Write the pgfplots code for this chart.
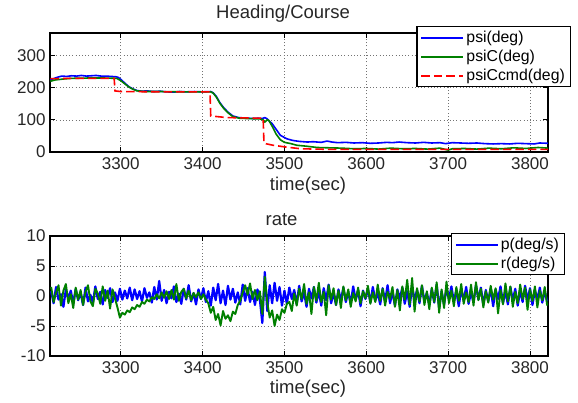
\documentclass[border=0pt]{standalone}
\usepackage{pgfplots}
\pgfplotsset{compat=1.18}
\usepackage{fontspec}
\setmainfont{Liberation Sans}
\definecolor{mblue}{rgb}{0,0,1}
\definecolor{mgreen}{rgb}{0,0.5,0}
\definecolor{mred}{rgb}{1,0,0}
\pgfplotsset{
  mstyle/.style={
    scale only axis, width=498pt,
    xmin=3213.6, xmax=3822,
    xtick={3300,3400,3500,3600,3700,3800},
    enlargelimits=false,
    axis line style={line width=1.1pt, black},
    every tick/.style={black, line width=0.9pt},
    major tick length=5pt,
    tick align=inside,
    grid=major,
    major grid style={black!55, line width=0.6pt, dash pattern=on 1pt off 2.2pt},
    /pgf/number format/assume math mode=true,
    /pgf/number format/1000 sep={},
    ticklabel style={font=\fontsize{17}{17}\selectfont, text=black!85},
    xticklabel style={yshift=-2pt},
    yticklabel style={xshift=-1pt},
    label style={font=\fontsize{18.5}{18.5}\selectfont, text=black!85},
    title style={font=\fontsize{18.5}{18.5}\selectfont, text=black!85},
    legend style={draw=black, line width=1.2pt, fill=white,
      font=\fontsize{15.8}{15.8}\selectfont,
      inner xsep=3.5pt, inner ysep=2.5pt, row sep=2pt},
    legend cell align=left,
    legend image code/.code={\draw[##1, line width=2pt] (0pt,0pt) -- (42pt,0pt);},
  }
}
\begin{document}
\begin{tikzpicture}
\useasboundingbox (0,0) rectangle (578pt,402pt);
% ---------- top axis ----------
\begin{axis}[mstyle, at={(50pt,250pt)}, anchor=south west, height=119pt,
  ymin=0, ymax=370, ytick={0,100,200,300},
  title={Heading/Course},
  title style={at={(axis description cs:0.468,1)}, anchor=base, yshift=9pt},
  xlabel={time(sec)},
  xlabel style={at={(axis description cs:0.518,0)}, anchor=base, yshift=-38pt},
  legend style={at={(1.046,1.058)}, anchor=north east},
]
\addplot[draw=mblue, line width=1.6pt, line join=round] coordinates {
(3214,224)(3218,228)(3222,232)(3228,236)(3234,235)(3240,237)(3246,236)(3252,238)(3258,236)(3264,237)(3270,238)(3276,236)(3282,236)(3288,235)(3294,234)(3297,232)(3301,224)(3305,214)(3310,203)(3315,196)(3320,191)(3326,189)(3332,190)(3340,188)(3348,189)(3356,187)(3364,186)(3372,188)(3380,187)(3390,188)(3400,187)(3410,188)(3413,184)(3417,172)(3421,154)(3426,137)(3431,124)(3437,112)(3444,107)(3450,106)(3456,105)(3462,104)(3468,105)(3473,104)(3476,107)(3479,103)(3482,95)(3485,88)(3490,70)(3495,52)(3500,45)(3503,41)(3510,36)(3518,33)(3528,31)(3535,32)(3545,30)(3552,34)(3558,31)(3565,29)(3575,30)(3585,28)(3595,29)(3605,27)(3615,28)(3625,30)(3632,29)(3640,31)(3650,29)(3660,28)(3670,30)(3680,28)(3690,29)(3697,26)(3705,29)(3715,28)(3725,27)(3735,28)(3745,26)(3755,25)(3765,26)(3775,25)(3785,27)(3795,26)(3805,25)(3812,28)(3822,27)};
\addlegendentry{psi(deg)}
\addplot[draw=mgreen, line width=1.6pt, line join=round] coordinates {
(3214,220)(3220,224)(3230,227)(3240,229)(3260,230)(3280,230)(3295,229)(3300,222)(3305,212)(3310,202)(3315,195)(3320,190)(3330,188)(3350,188)(3380,187)(3410,187)(3413,183)(3417,170)(3421,152)(3426,135)(3431,122)(3437,110)(3445,105)(3455,104)(3470,103)(3474,100)(3476,93)(3479,100)(3481,98)(3485,80)(3490,55)(3495,38)(3500,30)(3508,26)(3515,21)(3527,18)(3540,14)(3555,13)(3570,12)(3585,10)(3600,11)(3615,9)(3630,12)(3645,10)(3660,11)(3675,9)(3690,12)(3700,6)(3705,10)(3720,11)(3735,9)(3750,12)(3765,10)(3780,13)(3795,11)(3810,14)(3822,12)};
\addlegendentry{psiC(deg)}
\addplot[draw=mred, line width=1.6pt, dash pattern=on 8.5pt off 4pt] coordinates {
(3214,228)(3240,229)(3292,229)(3293,190)(3300,188)(3350,187)(3409,187)(3410,112)(3430,107)(3474,105)(3475,27)(3486,21)(3500,16)(3520,10)(3560,8)(3600,8)(3700,8)(3822,8)};
\addlegendentry{psiCcmd(deg)}
\end{axis}
% ---------- bottom axis ----------
\begin{axis}[mstyle, at={(50pt,46pt)}, anchor=south west, height=120pt,
  ymin=-10, ymax=10, ytick={-10,-5,0,5,10},
  title={rate},
  title style={at={(axis description cs:0.465,1)}, anchor=base, yshift=5pt},
  xlabel={time(sec)},
  xlabel style={at={(axis description cs:0.518,0)}, anchor=base, yshift=-37pt},
  legend style={at={(1.034,1.025)}, anchor=north east},
]
\addplot[draw=mblue, line width=2.2pt, line join=round] coordinates {
(3215,0.8)(3218,-1.2)(3221,1.5)(3224,-0.6)(3227,0.3)(3230,-1.8)(3233,1.1)(3236,-0.4)(3239,0.9)(3242,-1.3)
(3245,1.2)(3248,-0.7)(3251,0.5)(3254,-1.5)(3257,1.4)(3260,-0.9)(3263,0.2)(3266,-1.1)(3269,1.6)(3272,-0.5)
(3275,0.7)(3278,-1.4)(3281,1.0)(3284,-0.3)(3287,1.3)(3290,-1.0)(3293,0.6)(3296,-0.8)(3299,1.2)(3302,-0.6)
(3305,0.9)(3308,-0.4)(3311,1.4)(3314,-0.7)(3317,1.1)(3320,-0.5)(3323,0.8)(3326,-0.9)(3329,1.3)(3332,-0.3)
(3335,0.6)(3338,-1.1)(3341,1.5)(3344,-0.6)(3347,2.5)(3350,-0.8)(3353,1.0)(3356,-1.2)(3359,0.7)(3362,-0.4)
(3365,1.6)(3368,-1.0)(3371,0.4)(3374,-1.3)(3377,1.2)(3380,-0.6)(3383,1.8)(3386,-0.9)(3389,0.5)(3392,-1.4)
(3395,1.1)(3398,-0.5)(3401,1.3)(3404,-1.0)(3407,0.8)(3410,-1.6)(3413,1.4)(3416,-0.7)(3419,2.0)(3422,-1.2)
(3425,0.9)(3428,-1.5)(3431,1.7)(3434,-0.6)(3437,1.2)(3440,-1.1)(3443,0.6)(3446,-1.4)(3449,1.9)(3452,-0.8)
(3455,1.3)(3458,-1.0)(3461,0.7)(3464,-1.5)(3467,1.1)(3470,-0.6)(3473,-4.5)(3476,4.0)(3479,-2.5)(3482,1.8)
(3485,-1.2)(3488,2.2)(3491,-0.8)(3494,1.5)(3497,-1.6)(3500,0.9)(3503,-1.3)(3506,1.4)(3509,-0.5)(3512,1.0)
(3515,-1.4)(3518,1.7)(3521,-0.9)(3524,0.6)(3527,-1.8)(3530,1.2)(3533,-0.4)(3536,1.5)(3539,-1.1)(3542,0.8)
(3545,-1.6)(3548,1.3)(3551,-0.7)(3554,1.9)(3557,-1.2)(3560,0.5)(3563,-1.5)(3566,1.1)(3569,-0.8)(3572,1.4)
(3575,-1.0)(3578,0.7)(3581,-1.3)(3584,1.6)(3587,-0.6)(3590,1.0)(3593,-1.7)(3596,0.9)(3599,-0.5)(3602,1.2)
(3605,-1.1)(3608,1.5)(3611,-0.8)(3614,0.6)(3617,-1.4)(3620,1.3)(3623,-0.9)(3626,1.8)(3629,-1.2)(3632,0.7)
(3635,-1.6)(3638,1.1)(3641,-0.5)(3644,1.4)(3647,-1.3)(3650,0.8)(3653,-1.8)(3656,1.6)(3659,-0.7)(3662,1.0)
(3665,-1.2)(3668,1.7)(3671,-0.9)(3674,0.5)(3677,-1.5)(3680,1.2)(3683,-1.1)(3686,1.9)(3689,-2.0)(3692,0.8)
(3695,-1.4)(3698,1.3)(3701,-0.6)(3704,1.6)(3707,-1.0)(3710,0.9)(3713,-1.7)(3716,1.2)(3719,-0.8)(3722,1.5)
(3725,-1.3)(3728,0.7)(3731,-1.1)(3734,1.8)(3737,-0.6)(3740,1.4)(3743,-1.5)(3746,1.0)(3749,-0.9)(3752,1.3)
(3755,-1.7)(3758,1.1)(3761,-0.5)(3764,1.6)(3767,-1.2)(3770,0.8)(3773,-1.4)(3776,1.5)(3779,-0.7)(3782,1.2)
(3785,-1.6)(3788,0.9)(3791,-1.0)(3794,1.7)(3797,-0.8)(3800,1.3)(3803,-1.5)(3806,1.0)(3809,-0.6)(3812,1.4)
(3815,-1.1)(3818,0.8)(3821,-0.9)};
\addlegendentry{p(deg/s)}
\addplot[draw=mgreen, line width=1.9pt, line join=round] coordinates {
(3215,1.5)(3218,-1.0)(3221,0.5)(3224,1.8)(3227,-1.6)(3230,0.9)(3233,2.0)(3236,-1.2)(3239,0.3)(3242,-2.0)
(3245,1.4)(3248,-0.6)(3251,1.0)(3254,-1.5)(3257,0.7)(3260,1.8)(3263,-0.9)(3266,-1.7)(3269,1.2)(3272,0.4)
(3275,-1.3)(3278,1.6)(3281,-0.8)(3284,0.9)(3287,-2.1)(3290,1.1)(3293,-0.4)(3296,-1.9)(3299,-3.6)(3302,-2.8)
(3305,-3.1)(3308,-2.4)(3311,-2.7)(3314,-1.9)(3317,-2.2)(3320,-1.5)(3323,-1.8)(3326,-1.0)(3329,-1.3)(3332,-0.6)
(3335,-0.9)(3338,-0.2)(3341,-0.5)(3344,0.3)(3347,-0.4)(3350,0.6)(3353,-0.3)(3356,0.8)(3359,-0.5)(3362,1.0)
(3365,-0.6)(3368,2.0)(3371,-0.8)(3374,0.7)(3377,1.2)(3380,-0.4)(3383,0.9)(3386,-0.7)(3389,0.5)(3392,-0.2)
(3395,0.6)(3398,-0.5)(3401,0.3)(3404,-0.6)(3407,-1.2)(3410,-2.8)(3413,-1.8)(3416,-4.0)(3419,-3.0)(3422,-4.9)
(3425,-2.5)(3428,-3.8)(3431,-3.2)(3434,-4.2)(3437,-2.6)(3440,-3.0)(3443,-1.5)(3446,-0.8)(3449,0.6)(3452,1.8)
(3455,0.2)(3458,2.1)(3461,-0.5)(3464,1.0)(3467,-0.7)(3470,0.8)(3473,-3.0)(3476,3.2)(3479,-1.0)(3482,-3.6)
(3485,-2.4)(3488,-5.0)(3491,-3.1)(3494,-4.0)(3497,-2.2)(3500,-2.8)(3503,-1.3)(3506,-1.0)(3509,-2.5)(3512,0.4)
(3515,-1.6)(3518,1.2)(3521,-0.5)(3524,2.0)(3527,-1.3)(3530,0.6)(3533,-3.0)(3536,1.5)(3539,-0.8)(3542,2.2)
(3545,-1.0)(3548,0.7)(3551,-3.2)(3554,1.8)(3557,-0.6)(3560,1.3)(3563,-1.5)(3566,0.9)(3569,-2.0)(3572,1.6)
(3575,-0.7)(3578,1.1)(3581,-1.8)(3584,0.5)(3587,-0.9)(3590,1.4)(3593,-1.2)(3596,0.8)(3599,-0.4)(3602,1.7)
(3605,-1.3)(3608,0.6)(3611,-1.0)(3614,1.9)(3617,-0.8)(3620,1.2)(3623,-1.6)(3626,0.7)(3629,-0.5)(3632,1.5)
(3635,-1.8)(3638,1.0)(3641,-2.4)(3644,1.6)(3647,-0.6)(3650,2.7)(3653,-1.4)(3656,3.0)(3659,-2.6)(3662,1.3)
(3665,-0.9)(3668,1.8)(3671,-1.5)(3674,0.8)(3677,-2.2)(3680,1.4)(3683,-1.0)(3686,2.3)(3689,-2.8)(3692,1.1)
(3695,-2.0)(3698,2.4)(3701,-1.2)(3704,0.9)(3707,-1.7)(3710,1.5)(3713,-0.8)(3716,2.0)(3719,-1.3)(3722,0.6)
(3725,-1.0)(3728,1.9)(3731,-1.6)(3734,2.3)(3737,-0.7)(3740,1.2)(3743,-1.9)(3746,0.8)(3749,-1.1)(3752,1.7)
(3755,-0.6)(3758,1.3)(3761,-2.9)(3764,1.0)(3767,-1.4)(3770,2.1)(3773,-0.9)(3776,1.6)(3779,-1.8)(3782,0.7)
(3785,-1.2)(3788,1.9)(3791,-0.5)(3794,1.4)(3797,-2.3)(3800,1.1)(3803,-0.8)(3806,1.6)(3809,-1.9)(3812,0.9)
(3815,-0.7)(3818,1.5)(3821,-1.6)};
\addlegendentry{r(deg/s)}
\end{axis}
\end{tikzpicture}
\end{document}
